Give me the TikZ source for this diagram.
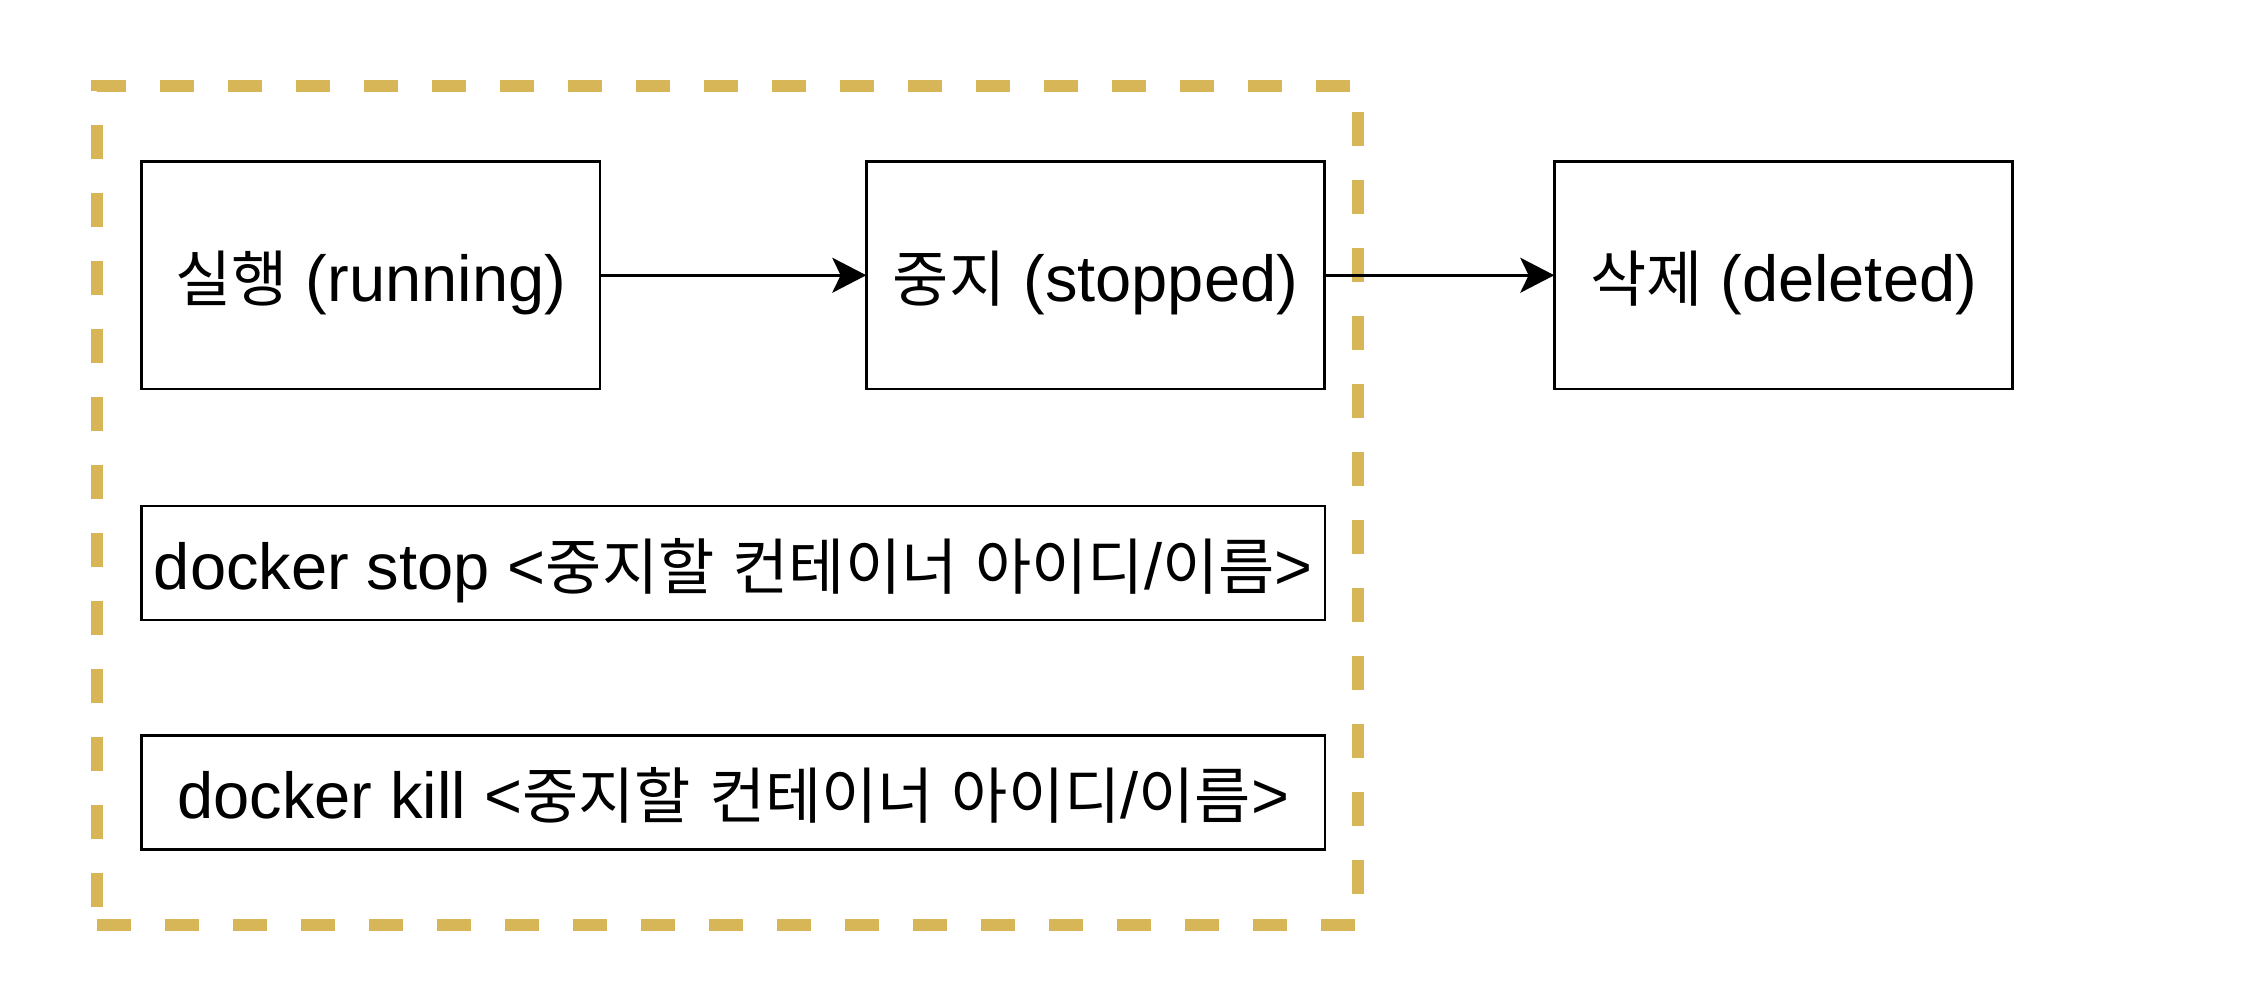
\documentclass[tikz,border=0pt]{standalone}
\usepackage{fontspec}
\setmainfont{Liberation Sans}
\newfontfamily\krfont{Noto Sans CJK KR}[Scale=0.94]
\newcommand\kr[1]{{\krfont #1}}
\usetikzlibrary{arrows.meta}
\definecolor{frameGold}{HTML}{D6B656}
\begin{document}
\begin{tikzpicture}[x=0.5pt,y=-0.5pt,
  every node/.style={font=\fontsize{32.5pt}{39pt}\selectfont},
  box/.style={draw=black, line width=1.45pt, inner sep=0pt, outer sep=0pt,
              text height=26pt, text depth=0pt},
  state/.style={box, minimum width=229.25pt, minimum height=113.75pt},
  cmd/.style={box, minimum width=591.75pt, minimum height=57pt},
  group/.style={draw=frameGold, line width=5.7pt, dash pattern=on 17pt off 17pt,
                inner sep=0pt, outer sep=0pt, minimum width=630.5pt, minimum height=419.5pt},
  flow/.style={line width=1.45pt, -{Stealth[length=17pt,width=17.5pt,inset=4.2pt]}}
]
  % canvas
  \path[fill=white] (0,0) rectangle (2256,1000);
  \useasboundingbox (0,0) rectangle (2256,1000);

  % group of the stopping commands
  \node[group] (grp) at (727.5,505.5) {};

  % container states
  \node[state] (run)  at (370.75,275.25)  {\kr{실행} (running)};
  \node[state] (stop) at (1095.5,275.25)  {\kr{중지} (stopped)};
  \node[state] (del)  at (1783.5,275.25)  {\kr{삭제} (deleted)};

  % commands
  \node[cmd] (cmdstop) at (733.25,563)   {docker stop <\kr{중지할} \kr{컨테이너} \kr{아이디}/\kr{이름}>};
  \node[cmd] (cmdkill) at (733.25,792.5) {docker kill <\kr{중지할} \kr{컨테이너} \kr{아이디}/\kr{이름}>};

  % transitions
  \draw[flow] (run.east) -- (stop.west);
  \draw[flow] (stop.east) -- (del.west);
\end{tikzpicture}
\end{document}
